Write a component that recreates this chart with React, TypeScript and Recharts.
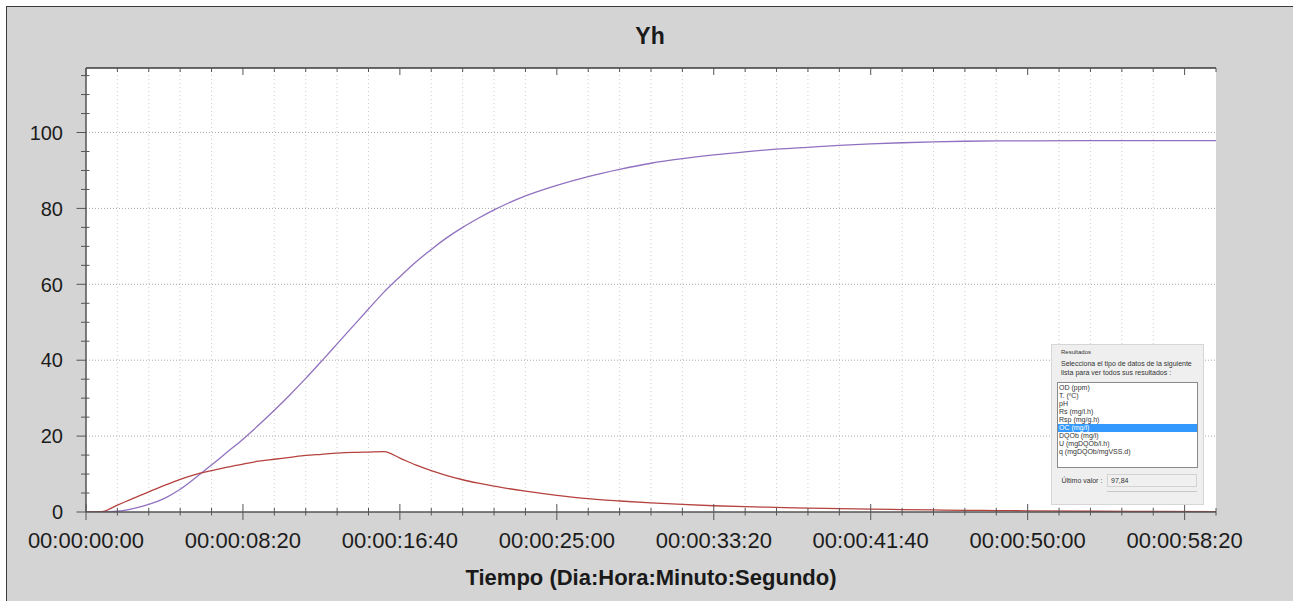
import React from 'react';
import { LineChart, Line, XAxis, YAxis, ReferenceLine, CartesianGrid } from 'recharts';

// ---- data (time in seconds) ----
const timeSeconds = [0, 50, 100, 150, 200, 250, 300, 350, 400, 450, 500, 550, 600, 650, 700, 750, 800, 850, 900, 950, 1000, 1050, 1100, 1150, 1200, 1250, 1300, 1400, 1500, 1600, 1700, 1800, 1900, 2000, 2100, 2200, 2300, 2400, 2500, 2600, 2700, 2800, 2900, 3000, 3200, 3400, 3600];
const yhValues = [0, 0, 0.2, 0.9, 2.0, 3.6, 6.0, 9.1, 12.4, 15.8, 19.2, 22.9, 26.8, 30.9, 35.2, 39.7, 44.3, 48.9, 53.5, 58.0, 62.0, 65.8, 69.2, 72.3, 75.0, 77.4, 79.6, 83.3, 86.1, 88.4, 90.3, 91.9, 93.1, 94.1, 94.9, 95.6, 96.1, 96.6, 97.0, 97.3, 97.55, 97.7, 97.78, 97.82, 97.84, 97.84, 97.84];
const redValues = [0, 0.1, 1.8, 3.6, 5.3, 7.0, 8.6, 9.9, 10.9, 11.8, 12.6, 13.4, 13.9, 14.4, 14.9, 15.2, 15.5, 15.7, 15.8, 15.9, 14.2, 12.4, 10.9, 9.6, 8.5, 7.6, 6.8, 5.5, 4.4, 3.5, 2.9, 2.4, 2.0, 1.65, 1.4, 1.2, 1.0, 0.9, 0.75, 0.65, 0.55, 0.45, 0.38, 0.3, 0.2, 0.15, 0.1];

const xMajorTicks = [0, 500, 1000, 1500, 2000, 2500, 3000, 3500];
const xTickLabels = ['00:00:00:00', '00:00:08:20', '00:00:16:40', '00:00:25:00', '00:00:33:20', '00:00:41:40', '00:00:50:00', '00:00:58:20'];
const xAllTicks = Array.from({ length: 37 }, (_, i) => i * 100);
const xGridValues = xAllTicks.filter((v) => v > 0 && v < 3600 && v % 500 !== 0);
const yAllTicks = Array.from({ length: 24 }, (_, i) => i * 5);
const yGridValues = [20, 40, 60, 80, 100];
const yLabelTicks = [0, 20, 40, 60, 80, 100];

const listItems = ['OD (ppm)', 'T. (ºC)', 'pH', 'Rs (mg/l.h)', 'Rsp (mg/g.h)', 'OC (mg/l)', 'DQOb (mg/l)', 'U (mgDQOb/l.h)', 'q (mgDQOb/mgVSS.d)'];
const selectedItem = 'OC (mg/l)';
const lastValue = '97,84';

const FONT = '"Liberation Sans", Arial, sans-serif';
const AXIS = '#555555';

const XTick = (props: any) => {
  const { x, y, payload } = props;
  const v = payload.value;
  const idx = xMajorTicks.indexOf(v);
  const major = idx >= 0;
  return (
    <g>
      <line x1={x} x2={x} y1={y - (major ? 8 : 4)} y2={y + (major ? 8 : 3.5)} stroke={AXIS} strokeWidth={1} />
      {major && (
        <text x={x} y={y + 35.5} textAnchor="middle" fontSize={22} fill="#1c1c1c" fontFamily={FONT}>
          {xTickLabels[idx]}
        </text>
      )}
    </g>
  );
};

const XTopTick = (props: any) => {
  const { x, y, payload } = props;
  const major = xMajorTicks.indexOf(payload.value) >= 0;
  return <line x1={x} x2={x} y1={y} y2={y + (major ? 7 : 4)} stroke={AXIS} strokeWidth={1} />;
};

const YTick = (props: any) => {
  const { x, y, payload } = props;
  const v = payload.value;
  const major = yLabelTicks.indexOf(v) >= 0;
  return (
    <g>
      <line x1={x - (major ? 9.5 : 5)} x2={x + (major ? 0 : 3.5)} y1={y} y2={y} stroke={AXIS} strokeWidth={1} />
      {major && (
        <text x={x - 23} y={y} dy="0.36em" textAnchor="end" fontSize={20} fill="#1c1c1c" fontFamily={FONT}>
          {v}
        </text>
      )}
    </g>
  );
};

export default function App() {
  const data = timeSeconds.map((t, i) => ({ t, yh: yhValues[i], red: redValues[i] }));
  return (
    <div style={{ position: 'absolute', left: 0, top: 0, width: 1293, height: 601, background: '#ffffff', overflow: 'hidden', fontFamily: FONT }}>
      <div style={{ position: 'absolute', left: 6, top: 6, width: 1287, height: 595, background: '#d4d4d4', borderLeft: '1px solid #3a3a3a', borderTop: '1px solid #3a3a3a', boxSizing: 'border-box' }} />
      <div style={{ position: 'absolute', left: 600, top: 25, width: 100, textAlign: 'center', fontSize: 23, lineHeight: '23px', fontWeight: 'bold', color: '#1a1a1a' }}>Yh</div>
      <div style={{ position: 'absolute', left: 0, top: 0 }}>
        <LineChart width={1293} height={601} data={data} margin={{ top: 67, right: 77, bottom: 29, left: 6 }}>
          <CartesianGrid fill="#ffffff" horizontal={false} vertical={false} stroke="none" />
          {xGridValues.map((v) => (
            <ReferenceLine key={'vx' + v} x={v} stroke="#cfcfcf" strokeDasharray="1 3" strokeWidth={1} />
          ))}
          {yGridValues.map((v) => (
            <ReferenceLine key={'hy' + v} y={v} stroke="#a8a8a8" strokeDasharray="1 2" strokeWidth={1} />
          ))}
          <XAxis
            dataKey="t"
            type="number"
            domain={[0, 3600]}
            ticks={xAllTicks}
            interval={0}
            height={60}
            tickSize={0}
            tickMargin={0}
            tick={<XTick />}
            axisLine={{ stroke: AXIS, strokeWidth: 1.5 }}
            tickLine={false}
            allowDataOverflow
            label={{ value: 'Tiempo (Dia:Hora:Minuto:Segundo)', position: 'bottom', offset: -2.5, fontSize: 22, fontWeight: 'bold', fill: '#1a1a1a', fontFamily: FONT }}
          />
          <XAxis
            xAxisId="top"
            orientation="top"
            dataKey="t"
            type="number"
            domain={[0, 3600]}
            ticks={xAllTicks}
            interval={0}
            height={1}
            tickSize={0}
            tickMargin={0}
            tick={<XTopTick />}
            axisLine={{ stroke: '#3a3a3a', strokeWidth: 1.5 }}
            tickLine={false}
          />
          <YAxis
            type="number"
            domain={[0, 117]}
            ticks={yAllTicks}
            interval={0}
            width={80}
            tickSize={0}
            tickMargin={0}
            tick={<YTick />}
            axisLine={{ stroke: AXIS, strokeWidth: 1.5 }}
            tickLine={false}
            allowDataOverflow
          />
          <YAxis
            yAxisId="right"
            orientation="right"
            type="number"
            domain={[0, 117]}
            width={0}
            tick={false}
            tickLine={false}
            axisLine={{ stroke: '#3a3a3a', strokeWidth: 1.5 }}
          />
          <Line type="monotone" dataKey="yh" stroke="#9070c0" strokeWidth={1.3} dot={false} isAnimationActive={false} />
          <Line type="monotone" dataKey="red" stroke="#b5423e" strokeWidth={1.3} dot={false} isAnimationActive={false} />
        </LineChart>
      </div>
      {/* Results panel overlay */}
      <div style={{ position: 'absolute', left: 1051, top: 344, width: 153, height: 161, background: '#efefef', border: '1px solid #d6d6d6', boxSizing: 'border-box', color: '#333', fontSize: 7 }}>
        <div style={{ position: 'absolute', left: 9, top: 3, fontSize: 6, lineHeight: '8px' }}>Resultados</div>
        <div style={{ position: 'absolute', left: 9, top: 13.6, fontSize: 7, lineHeight: '9.4px', whiteSpace: 'nowrap' }}>
          Selecciona el tipo de datos de la siguiente
          <br />
          lista para ver todos sus resultados :
        </div>
        <div style={{ position: 'absolute', left: 5, top: 36.5, width: 141, height: 86, background: '#ffffff', border: '1px solid #8a8a8a', boxSizing: 'border-box', paddingTop: 1 }}>
          {listItems.map((it) => (
            <div
              key={it}
              style={{
                height: 8,
                lineHeight: '8px',
                fontSize: 7,
                paddingLeft: 1,
                whiteSpace: 'nowrap',
                background: it === selectedItem ? '#3399ff' : 'transparent',
                color: it === selectedItem ? '#ffffff' : '#333',
              }}
            >
              {it}
            </div>
          ))}
        </div>
        <div style={{ position: 'absolute', left: 9.5, top: 131, fontSize: 7, lineHeight: '9px', whiteSpace: 'nowrap' }}>Último valor :</div>
        <div style={{ position: 'absolute', left: 55, top: 129, width: 90, height: 13, background: '#f0f0f0', border: '1px solid #d2d2d2', boxSizing: 'border-box', fontSize: 7, lineHeight: '11px', paddingLeft: 3 }}>{lastValue}</div>
        <div style={{ position: 'absolute', left: 55, top: 146, width: 90, height: 0, borderTop: '1px solid #c8c8c8' }} />
      </div>
    </div>
  );
}
